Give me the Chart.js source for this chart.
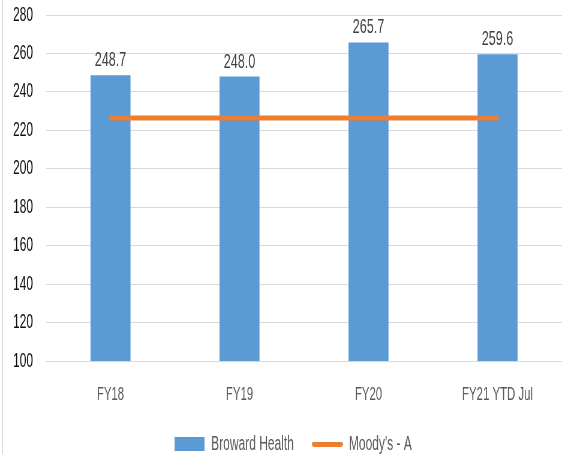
<!DOCTYPE html>
<html>
<head>
<meta charset="utf-8">
<script src="https://cdn.jsdelivr.net/npm/chart.js@4.4.1/dist/chart.umd.min.js"></script>
<style>
  html, body { margin: 0; padding: 0; background: #fff; overflow: hidden; }
  #wrap { width: 562px; height: 454px; overflow: hidden; position: relative; }
  #c { position: absolute; left: 0; top: 0; transform-origin: 0 0; }
</style>
</head>
<body>
<div id="wrap"><canvas id="c"></canvas></div>
<script>
// ---- data ----
const categories = ['FY18', 'FY19', 'FY20', 'FY21 YTD Jul'];
const browardHealth = [248.7, 248.0, 265.7, 259.6];
const moodysA = [226.4, 226.4, 226.4, 226.4];
const seriesNames = ['Broward Health', "Moody's - A"];
const yMin = 100, yMax = 280, yStep = 20;

// ---- look ----
const BLUE = '#5B9BD5';
const ORANGE = '#ED7D31';
const FONT = '"Liberation Sans", Arial, sans-serif';
const CLEAR = 'rgba(0,0,0,0)';

// Condensed lettering: lay the chart out on a wider canvas, then squeeze it horizontally.
const DISPLAY_W = 562, H = 454;
const W = 937;
const sx = DISPLAY_W / W;
const px = v => v / sx;   // on-screen horizontal px -> canvas px

const cv = document.getElementById('c');
cv.width = W; cv.height = H;
cv.style.width = W + 'px';
cv.style.height = H + 'px';
cv.style.transform = 'scaleX(' + sx + ')';

// legend swatches
function swatch(w, h, paint) {
  const c = document.createElement('canvas');
  c.width = w; c.height = h;
  paint(c.getContext('2d'), w, h);
  return c;
}
const barSwatch = swatch(Math.round(px(30)), 14, (g, w, h) => {
  g.fillStyle = BLUE; g.fillRect(0, 0, w, h);
});
const lineSwatch = swatch(Math.round(px(31)), 5, (g, w, h) => {
  const rx = px(2.5), ry = h / 2;
  g.fillStyle = ORANGE;
  g.fillRect(rx, 0, w - 2 * rx, h);
  g.beginPath(); g.ellipse(rx, ry, rx, ry, 0, 0, Math.PI * 2); g.fill();
  g.beginPath(); g.ellipse(w - rx, ry, rx, ry, 0, 0, Math.PI * 2); g.fill();
});

// light frame line on the left edge
const frame = {
  id: 'frame',
  beforeDraw(chart) {
    const ctx = chart.ctx;
    ctx.save();
    ctx.fillStyle = '#fff';
    ctx.fillRect(0, 0, W, H);
    ctx.fillStyle = '#d9d9d9';
    ctx.fillRect(px(2), 0, px(1), H);
    ctx.restore();
  }
};

// nudge the legend row a little right of centre
const legendNudge = {
  id: 'legendNudge',
  afterLayout(chart) {
    const lg = chart.legend;
    if (!lg) return;
    const dx = px(12), dy = -2;
    lg.left += dx; lg.right += dx;
    lg.top += dy; lg.bottom += dy;
  }
};

// value labels above the bars
const valueLabels = {
  id: 'valueLabels',
  afterDatasetsDraw(chart) {
    const meta = chart.getDatasetMeta(0);
    const ctx = chart.ctx;
    ctx.save();
    ctx.font = '21px ' + FONT;
    ctx.fillStyle = '#404040';
    ctx.textAlign = 'center';
    ctx.textBaseline = 'alphabetic';
    meta.data.forEach((bar, i) => {
      ctx.fillText(browardHealth[i].toFixed(1), bar.x, bar.y - 9);
    });
    ctx.restore();
  }
};

new Chart(cv, {
  data: {
    labels: categories,
    datasets: [
      {
        type: 'bar',
        label: seriesNames[0],
        data: browardHealth,
        backgroundColor: BLUE,
        borderWidth: 0,
        barPercentage: 0.31,
        categoryPercentage: 1,
        order: 1
      },
      {
        type: 'line',
        label: seriesNames[1],
        data: moodysA,
        borderColor: ORANGE,
        backgroundColor: ORANGE,
        borderWidth: 5,
        borderCapStyle: 'round',
        pointRadius: 0,
        fill: false,
        tension: 0,
        order: 0
      }
    ]
  },
  options: {
    responsive: false,
    animation: false,
    devicePixelRatio: 1,
    layout: { padding: { left: 0, top: 15, right: 0, bottom: -12 } },
    plugins: {
      tooltip: { enabled: false },
      legend: {
        position: 'bottom',
        labels: {
          usePointStyle: true,
          pointStyleWidth: px(31),
          boxHeight: 20,
          padding: 30,
          color: '#595959',
          font: { family: FONT, size: 20 },
          generateLabels(chart) {
            return chart.data.datasets.map((ds, i) => ({
              text: ds.label,
              datasetIndex: i,
              pointStyle: i === 0 ? barSwatch : lineSwatch,
              fillStyle: i === 0 ? BLUE : ORANGE,
              strokeStyle: CLEAR,
              lineWidth: 0,
              fontColor: '#595959',
              hidden: false
            }));
          }
        }
      }
    },
    scales: {
      x: {
        grid: {
          display: true,
          drawOnChartArea: false,
          color: CLEAR,
          drawTicks: true,
          tickLength: 22,
          tickColor: CLEAR
        },
        border: { color: '#d9d9d9', width: 1 },
        ticks: {
          color: '#595959',
          font: { family: FONT, size: 19 },
          padding: 0,
          maxRotation: 0,
          autoSkip: false
        },
        afterFit(s) { s.height = 45; }
      },
      y: {
        min: yMin,
        max: yMax,
        ticks: {
          stepSize: yStep,
          color: '#111',
          font: { family: FONT, size: 20 },
          padding: 0
        },
        grid: {
          color: '#d9d9d9',
          lineWidth: 1,
          drawTicks: true,
          tickLength: px(46) - px(33),
          tickColor: CLEAR
        },
        border: { display: false },
        afterFit(s) { s.width = px(46); }
      }
    }
  },
  plugins: [frame, legendNudge, valueLabels]
});
</script>
</body>
</html>
